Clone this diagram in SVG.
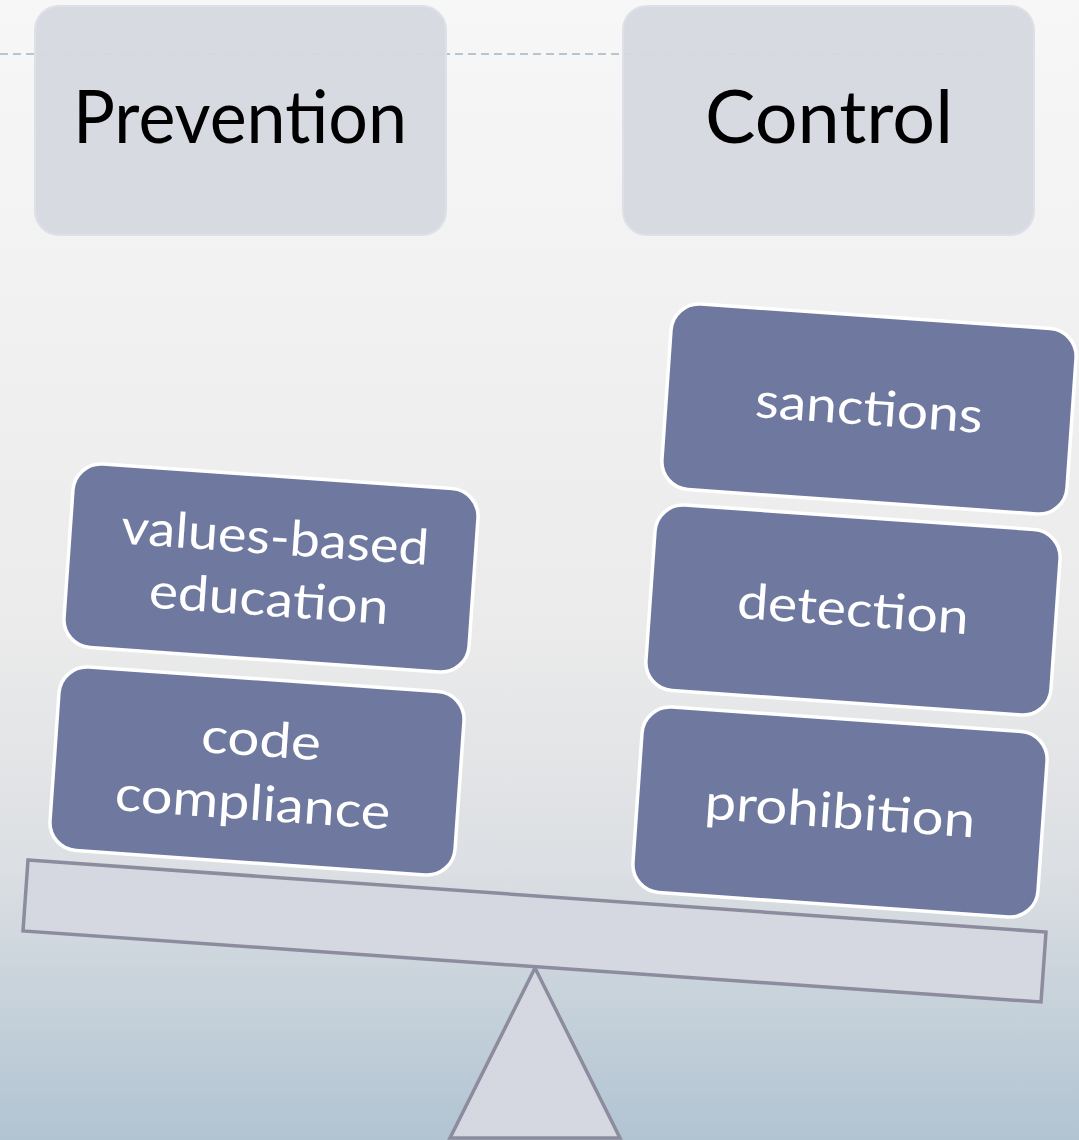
<svg xmlns="http://www.w3.org/2000/svg" width="1079" height="1140" viewBox="0 0 1079 1140">
<defs>
<linearGradient id="bg" x1="0" y1="0" x2="0" y2="1">
<stop offset="0" stop-color="#f7f7f7"/>
<stop offset="0.55" stop-color="#ebebeb"/>
<stop offset="0.76" stop-color="#dcdfe3"/>
<stop offset="1" stop-color="#b1c4d2"/>
</linearGradient>
<style>
.hdr{fill:#d6d9e1;fill-opacity:0.96;stroke:#dde0e6;stroke-width:2}
.htxt{font-family:Lato,"Open Sans","Liberation Sans",sans-serif;font-size:74px;fill:#000;text-anchor:middle}
.blk{fill:#6f79a0;stroke:#ffffff;stroke-width:3.5}
.btxt{font-family:Lato,"Open Sans","Liberation Sans",sans-serif;font-size:49px;fill:#ffffff;text-anchor:middle}
.sc{fill:#d5d8e0;stroke:#8c8c9e;stroke-width:3.5;stroke-linejoin:miter}
</style>
</defs>
<rect x="0" y="0" width="1079" height="1140" fill="url(#bg)"/>
<line x1="0" y1="54" x2="1001" y2="54" stroke="#9fb5c9" stroke-width="1.5" stroke-dasharray="8 5"/>

<g id="prevention">
<rect class="hdr" x="35" y="6" width="411" height="229" rx="24"/>
<text class="htxt" x="240" y="143" textLength="334" lengthAdjust="spacingAndGlyphs">Prevention</text>
</g>
<g id="control">
<rect class="hdr" x="623" y="6" width="411" height="229" rx="24"/>
<text class="htxt" x="829" y="143" textLength="248" lengthAdjust="spacingAndGlyphs">Control</text>
</g>

<g id="fulcrum">
<polygon class="sc" points="535,968 620,1138 450,1138" fill="#d0d4de"/>
</g>
<g id="beam">
<polygon class="sc" points="28,860 1046,932 1041,1002 23,931"/>
</g>

<g id="values-based-education" transform="translate(271,568) rotate(4)">
<rect class="blk" x="-203" y="-92" width="406" height="184" rx="28"/>
<text class="btxt" x="2" y="-14" textLength="308" lengthAdjust="spacingAndGlyphs">values-based</text>
<text class="btxt" x="0" y="48" textLength="240" lengthAdjust="spacingAndGlyphs">education</text>
</g>
<g id="code-compliance" transform="translate(257,771) rotate(4)">
<rect class="blk" x="-203" y="-92" width="406" height="184" rx="28"/>
<text class="btxt" x="2" y="-15" textLength="120" lengthAdjust="spacingAndGlyphs">code</text>
<text class="btxt" x="-2" y="49" textLength="276" lengthAdjust="spacingAndGlyphs">compliance</text>
</g>

<g id="sanctions" transform="translate(869,409) rotate(4)">
<rect class="blk" x="-203" y="-93" width="406" height="186" rx="28"/>
<text class="btxt" x="0" y="16" textLength="228" lengthAdjust="spacingAndGlyphs">sanctions</text>
</g>
<g id="detection" transform="translate(853,610) rotate(4)">
<rect class="blk" x="-203" y="-93" width="406" height="186" rx="28"/>
<text class="btxt" x="0" y="16" textLength="232" lengthAdjust="spacingAndGlyphs">detection</text>
</g>
<g id="prohibition" transform="translate(840,812) rotate(4)">
<rect class="blk" x="-203" y="-93" width="406" height="186" rx="28"/>
<text class="btxt" x="0" y="16" textLength="271" lengthAdjust="spacingAndGlyphs">prohibition</text>
</g>
<g id="connectors"></g>
</svg>
